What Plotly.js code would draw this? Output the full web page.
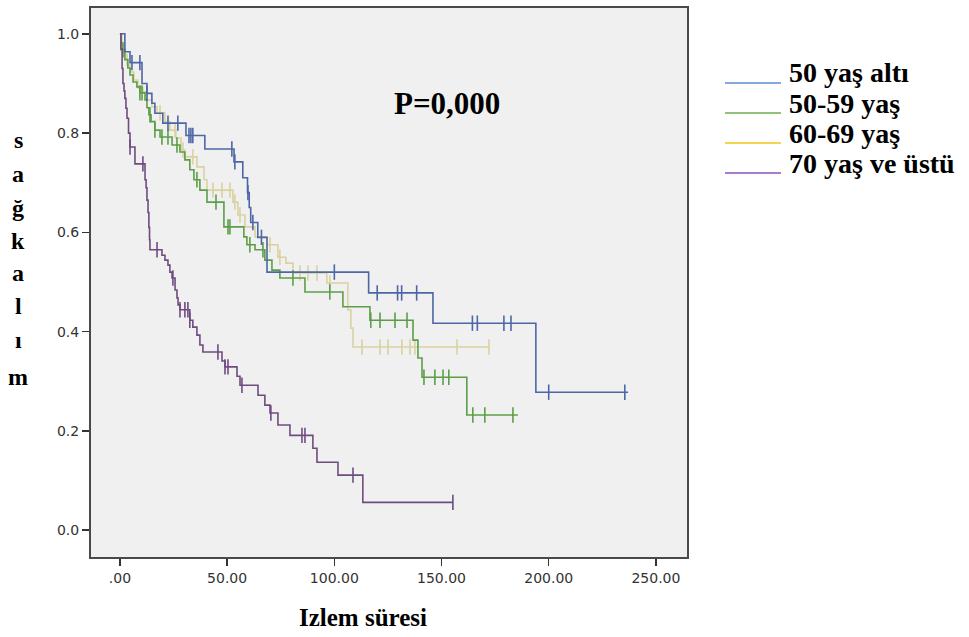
<!DOCTYPE html>
<html>
<head>
<meta charset="utf-8">
<script src="https://cdn.plot.ly/plotly-3.0.1.min.js"></script>
<style>
html,body{margin:0;padding:0;background:#fff;}
#chart{width:969px;height:637px;}
</style>
</head>
<body>
<div id="chart"></div>
<script>
// ---------- data (Kaplan-Meier step points: time where new survival value begins) ----------
const seriesNames = ["50 yaş altı", "50-59 yaş", "60-69 yaş", "70 yaş ve üstü"];

const blueTime = [0, 2.3, 4.7, 10.3, 12.6, 14.9, 16.3, 20, 30.8, 39.6, 53.2, 57.3, 59.5, 60.3, 61, 64.3, 68.6, 116, 146, 194];
const blueSurv = [1.0, 0.964, 0.942, 0.90, 0.88, 0.86, 0.84, 0.82, 0.795, 0.768, 0.742, 0.71, 0.68, 0.65, 0.62, 0.59, 0.52, 0.478, 0.417, 0.278];
const blueEnd = 237;
const blueCens = [5.6, 9.3, 12.6, 22.4, 27, 32.2, 33.1, 34.0, 52.2, 53.6, 59.7, 62, 66, 100, 120, 129.5, 131.4, 138.4, 164.4, 166.7, 179.1, 182.4, 200, 235.5];

const greenTime = [0, 0.47, 2.3, 3.7, 4.7, 6.1, 7.9, 9.3, 11.7, 12.6, 13.5, 14.5, 16.3, 18.7, 24.3, 28, 30.3, 32.6, 34.5, 37.3, 40.6, 48.5, 57.8, 59.2, 63, 67.6, 70.9, 74.6, 86.3, 104, 116.6, 136.7, 139, 140.9, 161.8];
const greenSurv = [1.0, 0.968, 0.948, 0.931, 0.917, 0.903, 0.893, 0.881, 0.867, 0.851, 0.837, 0.823, 0.806, 0.792, 0.776, 0.762, 0.746, 0.726, 0.706, 0.685, 0.661, 0.611, 0.591, 0.575, 0.565, 0.544, 0.524, 0.508, 0.480, 0.450, 0.423, 0.383, 0.347, 0.308, 0.232];
const greenEnd = 185.6;
const greenCens = [1.4, 9.3, 10.3, 14.0, 16.3, 19.6, 22.4, 26.6, 35.9, 44.8, 50.4, 51.3, 60.6, 66.7, 80.7, 97.9, 117, 121.3, 128.3, 133.9, 141.8, 146.9, 150.7, 153.4, 164.6, 170.2, 183.3];

const yellowTime = [0, 0.9, 1.9, 3.3, 4.7, 6.5, 8.4, 10.7, 12.6, 14.9, 17.3, 21, 23.3, 26.1, 28.5, 30.3, 35.9, 39.2, 40.6, 52.7, 55, 58.3, 63, 68.6, 73.7, 77.4, 80.7, 96.5, 106.3, 107.7, 108.7];
const yellowSurv = [1.0, 0.978, 0.958, 0.937, 0.923, 0.907, 0.891, 0.883, 0.867, 0.853, 0.841, 0.823, 0.806, 0.790, 0.766, 0.752, 0.732, 0.706, 0.685, 0.661, 0.635, 0.611, 0.591, 0.575, 0.550, 0.538, 0.518, 0.498, 0.444, 0.407, 0.369];
const yellowEnd = 172.6;
const yellowCens = [18.7, 25.7, 29.4, 34, 43.4, 47.6, 51.3, 53.6, 56, 70, 74.6, 84, 87.7, 91.9, 97.9, 112.9, 121.3, 125, 131.5, 135.3, 137.6, 157.2, 172.1];

const purpleTime = [0, 0.47, 1.0, 1.4, 1.9, 2.3, 2.8, 3.3, 4.0, 4.7, 7.0, 11.7, 12.2, 12.6, 13.1, 13.5, 13.8, 14.0, 19.6, 21, 22.4, 23.3, 24.3, 25.7, 26.6, 27.1, 28, 32.6, 34, 35.9, 37.3, 38.7, 47.6, 49, 54.6, 56, 64.4, 67.6, 70, 73.7, 79.3, 90, 91.9, 101.7, 113.3];
const purpleSurv = [1.0, 0.97, 0.93, 0.90, 0.885, 0.87, 0.85, 0.83, 0.80, 0.772, 0.738, 0.706, 0.69, 0.665, 0.64, 0.61, 0.585, 0.565, 0.554, 0.544, 0.534, 0.52, 0.508, 0.484, 0.468, 0.454, 0.444, 0.423, 0.409, 0.393, 0.373, 0.359, 0.341, 0.329, 0.31, 0.292, 0.272, 0.252, 0.236, 0.212, 0.191, 0.165, 0.137, 0.111, 0.056];
const purpleEnd = 155.3;
const purpleCens = [4.7, 10.7, 17.3, 24.7, 28, 30.3, 31.7, 32.6, 45.7, 49, 50.4, 56.9, 70.4, 84.9, 86.3, 108.7, 155.3];

const xTickVals = [0, 50, 100, 150, 200, 250];
const xTickText = [".00", "50.00", "100.00", "150.00", "200.00", "250.00"];
const yTickVals = [0, 0.2, 0.4, 0.6, 0.8, 1.0];
const yTickText = ["0.0", "0.2", "0.4", "0.6", "0.8", "1.0"];

const lineColors = ["#4d67a6", "#5c9e47", "#d9d2a0", "#6f4c80"];
const legendColors = ["#5b8bd6", "#6aad4a", "#f5c518", "#8c4fb8"];

// ---------- build traces ----------
const series = [
  {t: blueTime, s: blueSurv, end: blueEnd, c: blueCens},
  {t: greenTime, s: greenSurv, end: greenEnd, c: greenCens},
  {t: yellowTime, s: yellowSurv, end: yellowEnd, c: yellowCens},
  {t: purpleTime, s: purpleSurv, end: purpleEnd, c: purpleCens}
];

function survAt(t, times, surv) {
  let v = surv[0];
  for (let i = 0; i < times.length; i++) { if (times[i] <= t) v = surv[i]; }
  return v;
}

const traces = [];
const order = [2, 1, 0, 3];
order.forEach(i => {
  const d = series[i];
  traces.push({
    type: "scatter", mode: "lines",
    x: d.t.concat([d.end]), y: d.s.concat([d.s[d.s.length - 1]]),
    line: {shape: "hv", color: lineColors[i], width: 1.6},
    name: seriesNames[i], showlegend: false, hoverinfo: "skip"
  });
  traces.push({
    type: "scatter", mode: "markers",
    x: d.c, y: d.c.map(t => survAt(t, d.t, d.s)),
    marker: {symbol: "line-ns-open", size: 11, color: lineColors[i], line: {color: lineColors[i], width: 1.6}},
    name: seriesNames[i] + " censored", showlegend: false, hoverinfo: "skip"
  });
});

// ---------- layout helpers (pixel -> paper) ----------
const W = 969, H = 637;
const mL = 91, mR = 282, mT = 8, mB = 80;
const pw = W - mL - mR, ph = H - mT - mB;
const px = x => (x - mL) / pw;
const py = y => (H - mB - y) / ph;

const serif = "'Liberation Serif', 'Times New Roman', serif";
const annotations = [];
const shapes = [];

annotations.push({xref: "paper", yref: "paper", x: px(447), y: py(104), text: "<b>P=0,000</b>",
  showarrow: false, font: {family: serif, size: 31, color: "#000"}, xanchor: "center", yanchor: "middle"});
annotations.push({xref: "paper", yref: "paper", x: px(363), y: py(617), text: "<b>Izlem süresi</b>",
  showarrow: false, font: {family: serif, size: 25, color: "#000"}, xanchor: "center", yanchor: "middle"});
const yLetters = "sağkalım".split("");
const yLetterPos = [140, 174, 208, 241, 273, 306, 340, 377];
yLetters.forEach((ch, k) => {
  annotations.push({xref: "paper", yref: "paper", x: px(18), y: py(yLetterPos[k]), text: "<b>" + ch + "</b>",
    showarrow: false, font: {family: serif, size: 24, color: "#000"}, xanchor: "center", yanchor: "middle"});
});
const legY = [73, 103, 133, 163];
seriesNames.forEach((n, i) => {
  shapes.push({type: "line", xref: "paper", yref: "paper", x0: px(725), x1: px(781), y0: py(legY[i] + 10), y1: py(legY[i] + 10),
    line: {color: legendColors[i], width: 1.5}});
  annotations.push({xref: "paper", yref: "paper", x: px(787), y: py(legY[i]), text: "<b>" + n + "</b>",
    showarrow: false, font: {family: serif, size: 28, color: "#000"}, xanchor: "left", yanchor: "middle"});
});

const tickFont = {family: "'DejaVu Sans', Arial, sans-serif", size: 14, color: "#333"};
const layout = {
  width: W, height: H,
  margin: {l: mL, r: mR, t: mT, b: mB, pad: 0},
  paper_bgcolor: "#ffffff",
  plot_bgcolor: "#f0f0f0",
  showlegend: false,
  xaxis: {
    range: [-13.5, 264.5], tickvals: xTickVals, ticktext: xTickText,
    showgrid: false, zeroline: false,
    showline: true, mirror: true, linecolor: "#4a4a4a", linewidth: 2,
    ticks: "outside", ticklen: 7, tickwidth: 1.5, tickcolor: "#333",
    tickfont: tickFont
  },
  yaxis: {
    range: [-0.054, 1.052], tickvals: yTickVals, ticktext: yTickText,
    showgrid: false, zeroline: false,
    showline: true, mirror: true, linecolor: "#4a4a4a", linewidth: 2,
    ticks: "outside", ticklen: 7, tickwidth: 1.5, tickcolor: "#333",
    tickfont: tickFont
  },
  annotations: annotations,
  shapes: shapes
};

Plotly.newPlot("chart", traces, layout, {displayModeBar: false, staticPlot: true});
</script>
</body>
</html>
